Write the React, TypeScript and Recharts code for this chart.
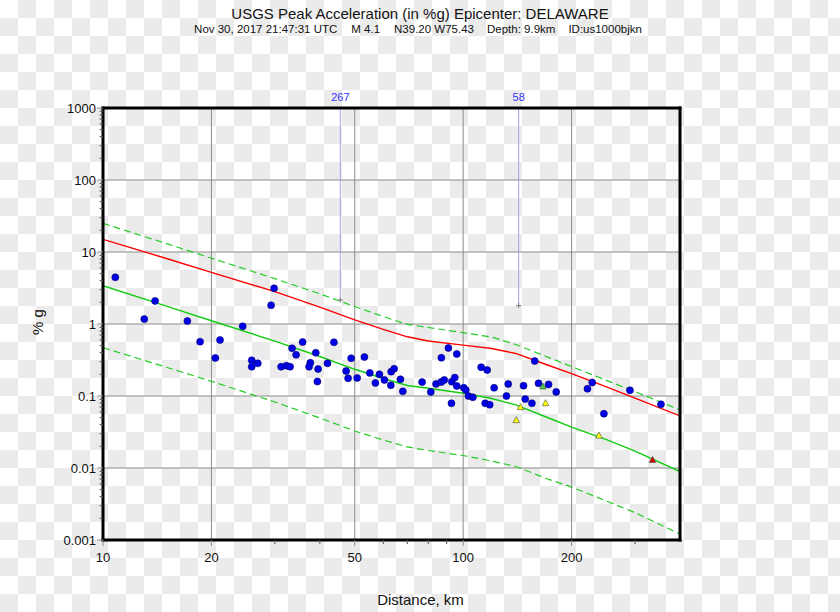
import { ComposedChart, Line, ReferenceLine, Scatter, XAxis, YAxis } from "recharts";

// axis ticks
const xMajorTicks = [10, 20, 50, 100, 200];
const xMinorTicks = [30, 40, 60, 70, 80, 90, 300];
const yMajorTicks = [0.001, 0.01, 0.1, 1, 10, 100, 1000];
const yMinorSteps = [2, 3, 4, 5, 6, 7, 8, 9];
const xDomain = [10, 400];
const yDomain = [0.001, 1000];

// prediction curves (distance km, %g)
const curveDist = [10, 15, 20, 30, 40, 50, 60, 70, 80, 100, 120, 140, 170, 200, 250, 300, 400];
const redCurve = [15.0, 8.13, 5.22, 2.81, 1.72, 1.14, 0.844, 0.664, 0.581, 0.509, 0.457, 0.39, 0.274, 0.205, 0.134, 0.0935, 0.0528];
const greenCurve = [3.4, 1.77, 1.11, 0.579, 0.354, 0.235, 0.175, 0.14, 0.128, 0.109, 0.0923, 0.0752, 0.0511, 0.0369, 0.0248, 0.0172, 0.0089];
const greenUpper = [25.0, 13.1, 8.2, 4.27, 2.62, 1.75, 1.27, 0.987, 0.894, 0.757, 0.659, 0.519, 0.354, 0.256, 0.165, 0.115, 0.064];
const greenLower = [0.469, 0.251, 0.16, 0.0826, 0.0495, 0.0327, 0.0245, 0.0196, 0.0175, 0.0149, 0.0125, 0.0105, 0.00715, 0.00543, 0.00348, 0.0024, 0.00121];

// stations
const stationDist = [10.82, 13.95, 13.02, 17.15, 29.85, 29.29, 24.43, 18.6, 21.13, 20.51, 25.88, 25.88, 26.9, 31.22, 32.3, 33.07, 33.5, 34.37, 35.83, 38.98, 37.65, 37.34, 39.56, 39.38, 42.0, 43.77, 48.87, 47.32, 47.93, 50.77, 53.19, 55.06, 57.06, 58.54, 60.45, 63.1, 64.32, 62.98, 66.96, 68.0, 76.9, 81.3, 84.1, 86.9, 88.6, 87.0, 91.0, 96.0, 93.0, 94.8, 96.0, 92.8, 100.4, 101.7, 103.4, 106.4, 112.2, 116.6, 115.1, 118.5, 121.9, 133.4, 131.9, 147.1, 148.7, 155.2, 158.0, 161.9, 172.6, 181.3, 221.4, 228.2, 245.9, 290.5, 354.2];
const stationPga = [4.45, 2.09, 1.17, 1.1, 3.13, 1.82, 0.929, 0.568, 0.6, 0.337, 0.313, 0.255, 0.284, 0.255, 0.264, 0.255, 0.46, 0.373, 0.562, 0.399, 0.29, 0.255, 0.237, 0.159, 0.284, 0.557, 0.334, 0.222, 0.176, 0.178, 0.348, 0.209, 0.152, 0.2, 0.167, 0.218, 0.239, 0.141, 0.171, 0.116, 0.156, 0.114, 0.147, 0.156, 0.167, 0.34, 0.464, 0.383, 0.158, 0.18, 0.138, 0.0792, 0.13, 0.121, 0.1, 0.0959, 0.251, 0.23, 0.0792, 0.0757, 0.13, 0.147, 0.1, 0.139, 0.0908, 0.0792, 0.306, 0.15, 0.145, 0.114, 0.126, 0.154, 0.0568, 0.12, 0.0767];

const yellowDist = [144.3, 140.4, 169.3, 238.2];
const yellowPga = [0.0697, 0.046, 0.0792, 0.0281];
const greenTriDist = [166.5];
const greenTriPga = [0.135];
const redTriDist = [335.6];
const redTriPga = [0.0129];

// off-scale stations
const offDist = [45.6, 142.6];
const offPga = [2.15, 1.8];
const offLabel = ["267", "58"];

const FONT = "'Liberation Sans', Arial, Helvetica, sans-serif";
const GRID = "#8c8c8c";
const TICK = "#555";
const CHECK = "#ebebeb";

const pts = (xs: number[], ys: number[]) => xs.map((d, i) => ({ d, v: ys[i] }));

const yMinorTicks = yMajorTicks.slice(0, -1).flatMap((dec) => yMinorSteps.map((m) => m * dec));
const xTicks = [...xMajorTicks, ...xMinorTicks];
const yTicks = [...yMajorTicks, ...yMinorTicks];

const isMajor = (v: number, majors: number[]) => majors.some((m) => Math.abs(v / m - 1) < 1e-6);

const BottomTick = (props: any) => {
  const { x, y, payload } = props;
  const major = isMajor(payload.value, xMajorTicks);
  return (
    <g>
      <line x1={x} x2={x} y1={y} y2={y + (major ? 6 : 4)} stroke={major ? GRID : TICK} />
      {major && (
        <text x={x} y={y + 22} textAnchor="middle" fontSize={13} fontFamily={FONT} fill="#111">
          {payload.value}
        </text>
      )}
    </g>
  );
};

const TopTick = (props: any) => {
  const { x, y, payload } = props;
  const major = isMajor(payload.value, xMajorTicks);
  return <line x1={x} x2={x} y1={y} y2={y - (major ? 6 : 4)} stroke={major ? GRID : TICK} />;
};

const LeftTick = (props: any) => {
  const { x, y, payload } = props;
  const major = isMajor(payload.value, yMajorTicks);
  return (
    <g>
      <line x1={x} x2={x - (major ? 6 : 3.5)} y1={y} y2={y} stroke={major ? GRID : TICK} />
      {major && (
        <text x={x - 7} y={y + 4.5} textAnchor="end" fontSize={13} fontFamily={FONT} fill="#111">
          {payload.value}
        </text>
      )}
    </g>
  );
};

const RightTick = (props: any) => {
  const { x, y, payload } = props;
  const major = isMajor(payload.value, yMajorTicks);
  return <line x1={x} x2={x + (major ? 6 : 3.5)} y1={y} y2={y} stroke={major ? GRID : TICK} />;
};

const Dot = (p: any) => <circle cx={p.cx} cy={p.cy} r={3.5} fill="#0000e6" stroke="#000070" strokeWidth={0.6} />;

const triangle = (fill: string) => (p: any) => (
  <polygon
    points={`${p.cx},${p.cy - 3.6} ${p.cx - 3.3},${p.cy + 2.4} ${p.cx + 3.3},${p.cy + 2.4}`}
    fill={fill}
    stroke="#444"
    strokeWidth={0.6}
  />
);

const Cross = (p: any) => (
  <g stroke="#777" strokeWidth={1}>
    <line x1={p.cx - 2.5} x2={p.cx + 2.5} y1={p.cy} y2={p.cy} />
    <line x1={p.cx} x2={p.cx} y1={p.cy - 2.5} y2={p.cy + 2.5} />
  </g>
);

const checker = `linear-gradient(45deg, ${CHECK} 25%, transparent 25%, transparent 75%, ${CHECK} 75%)`;

export default function App() {
  return (
    <div
      style={{
        position: "absolute",
        left: 0,
        top: 0,
        width: 840,
        height: 612,
        backgroundColor: "#ffffff",
        backgroundImage: `${checker}, ${checker}`,
        backgroundSize: "36px 36px",
        backgroundPosition: "0 0, 18px 18px",
        fontFamily: FONT,
        color: "#111",
      }}
    >
      <div style={{ position: "absolute", left: 0, top: 4, width: 840, textAlign: "center", fontSize: 15, lineHeight: "20px" }}>
        USGS Peak Acceleration (in %g) Epicenter: DELAWARE
      </div>
      <div
        style={{
          position: "absolute",
          left: 0,
          top: 22,
          width: 836,
          textAlign: "center",
          fontSize: 11.5,
          lineHeight: "14px",
          whiteSpace: "pre",
        }}
      >
        <span>Nov 30, 2017 21:47:31 UTC</span>
        <span style={{ marginLeft: 14 }}>M 4.1</span>
        <span style={{ marginLeft: 14 }}>N39.20 W75.43</span>
        <span style={{ marginLeft: 13 }}>Depth: 9.9km</span>
        <span style={{ marginLeft: 13 }}>ID:us1000bjkn</span>
      </div>
      <div
        style={{
          position: "absolute",
          left: -12,
          top: 312,
          width: 100,
          height: 20,
          lineHeight: "20px",
          textAlign: "center",
          fontSize: 15,
          transform: "rotate(-90deg)",
        }}
      >
        % g
      </div>
      <div style={{ position: "absolute", left: 0, top: 590, width: 841, textAlign: "center", fontSize: 15, lineHeight: "20px" }}>
        Distance, km
      </div>

      <div style={{ position: "absolute", left: 0, top: 0 }}>
        <ComposedChart width={840} height={612} margin={{ top: 108, right: 160, bottom: 42, left: 43 }}>
          <XAxis
            xAxisId={0}
            type="number"
            dataKey="d"
            scale="log"
            domain={xDomain}
            allowDataOverflow
            ticks={xTicks}
            interval={0}
            tickSize={0}
            tickMargin={0}
            tick={<BottomTick />}
            axisLine={false}
            height={30}
          />
          <XAxis
            xAxisId="top"
            orientation="top"
            type="number"
            dataKey="d"
            scale="log"
            domain={xDomain}
            allowDataOverflow
            ticks={xTicks}
            interval={0}
            tickSize={0}
            tickMargin={0}
            tick={<TopTick />}
            axisLine={false}
            height={0}
          />
          <YAxis
            yAxisId={0}
            type="number"
            dataKey="v"
            scale="log"
            domain={yDomain}
            allowDataOverflow
            ticks={yTicks}
            interval={0}
            tickSize={0}
            tickMargin={0}
            tick={<LeftTick />}
            axisLine={false}
            width={60}
          />
          <YAxis
            yAxisId="right"
            orientation="right"
            type="number"
            dataKey="v"
            scale="log"
            domain={yDomain}
            allowDataOverflow
            ticks={yTicks}
            interval={0}
            tickSize={0}
            tickMargin={0}
            tick={<RightTick />}
            axisLine={false}
            width={0}
          />

          {xMajorTicks.slice(1).map((t) => (
            <ReferenceLine key={`gx${t}`} x={t} stroke={GRID} strokeWidth={1} />
          ))}
          {yMajorTicks.slice(1, -1).map((t) => (
            <ReferenceLine key={`gy${t}`} y={t} stroke={GRID} strokeWidth={1} />
          ))}

          {offDist.map((d, i) => (
            <ReferenceLine
              key={`off${i}`}
              segment={[
                { x: d, y: yDomain[1] },
                { x: d, y: offPga[i] },
              ]}
              stroke="#a3a3e6"
              strokeWidth={1}
              label={{ value: offLabel[i], position: "top", offset: 7, fill: "#3333ff", fontSize: 11, fontFamily: FONT }}
            />
          ))}

          <Line data={pts(curveDist, greenUpper)} dataKey="v" stroke="#22cc22" strokeWidth={1.2} strokeDasharray="7 4" dot={false} isAnimationActive={false} />
          <Line data={pts(curveDist, greenLower)} dataKey="v" stroke="#22cc22" strokeWidth={1.2} strokeDasharray="7 4" dot={false} isAnimationActive={false} />
          <Line data={pts(curveDist, greenCurve)} dataKey="v" stroke="#11cc11" strokeWidth={1.4} dot={false} isAnimationActive={false} />
          <Line data={pts(curveDist, redCurve)} dataKey="v" stroke="#ff0000" strokeWidth={1.4} dot={false} isAnimationActive={false} />

          <Scatter data={pts(offDist, offPga)} dataKey="v" shape={Cross} isAnimationActive={false} />
          <Scatter data={pts(stationDist, stationPga)} dataKey="v" shape={Dot} isAnimationActive={false} />
          <Scatter data={pts(yellowDist, yellowPga)} dataKey="v" shape={triangle("#ffff00")} isAnimationActive={false} />
          <Scatter data={pts(greenTriDist, greenTriPga)} dataKey="v" shape={triangle("#44cc44")} isAnimationActive={false} />
          <Scatter data={pts(redTriDist, redTriPga)} dataKey="v" shape={triangle("#dd0000")} isAnimationActive={false} />

          {/* heavy plot frame */}
          {xDomain.map((t) => (
            <ReferenceLine key={`fx${t}`} x={t} stroke="#000" strokeWidth={3} strokeLinecap="square" ifOverflow="visible" />
          ))}
          {yDomain.map((t) => (
            <ReferenceLine key={`fy${t}`} y={t} stroke="#000" strokeWidth={3} strokeLinecap="square" ifOverflow="visible" />
          ))}
        </ComposedChart>
      </div>
    </div>
  );
}
